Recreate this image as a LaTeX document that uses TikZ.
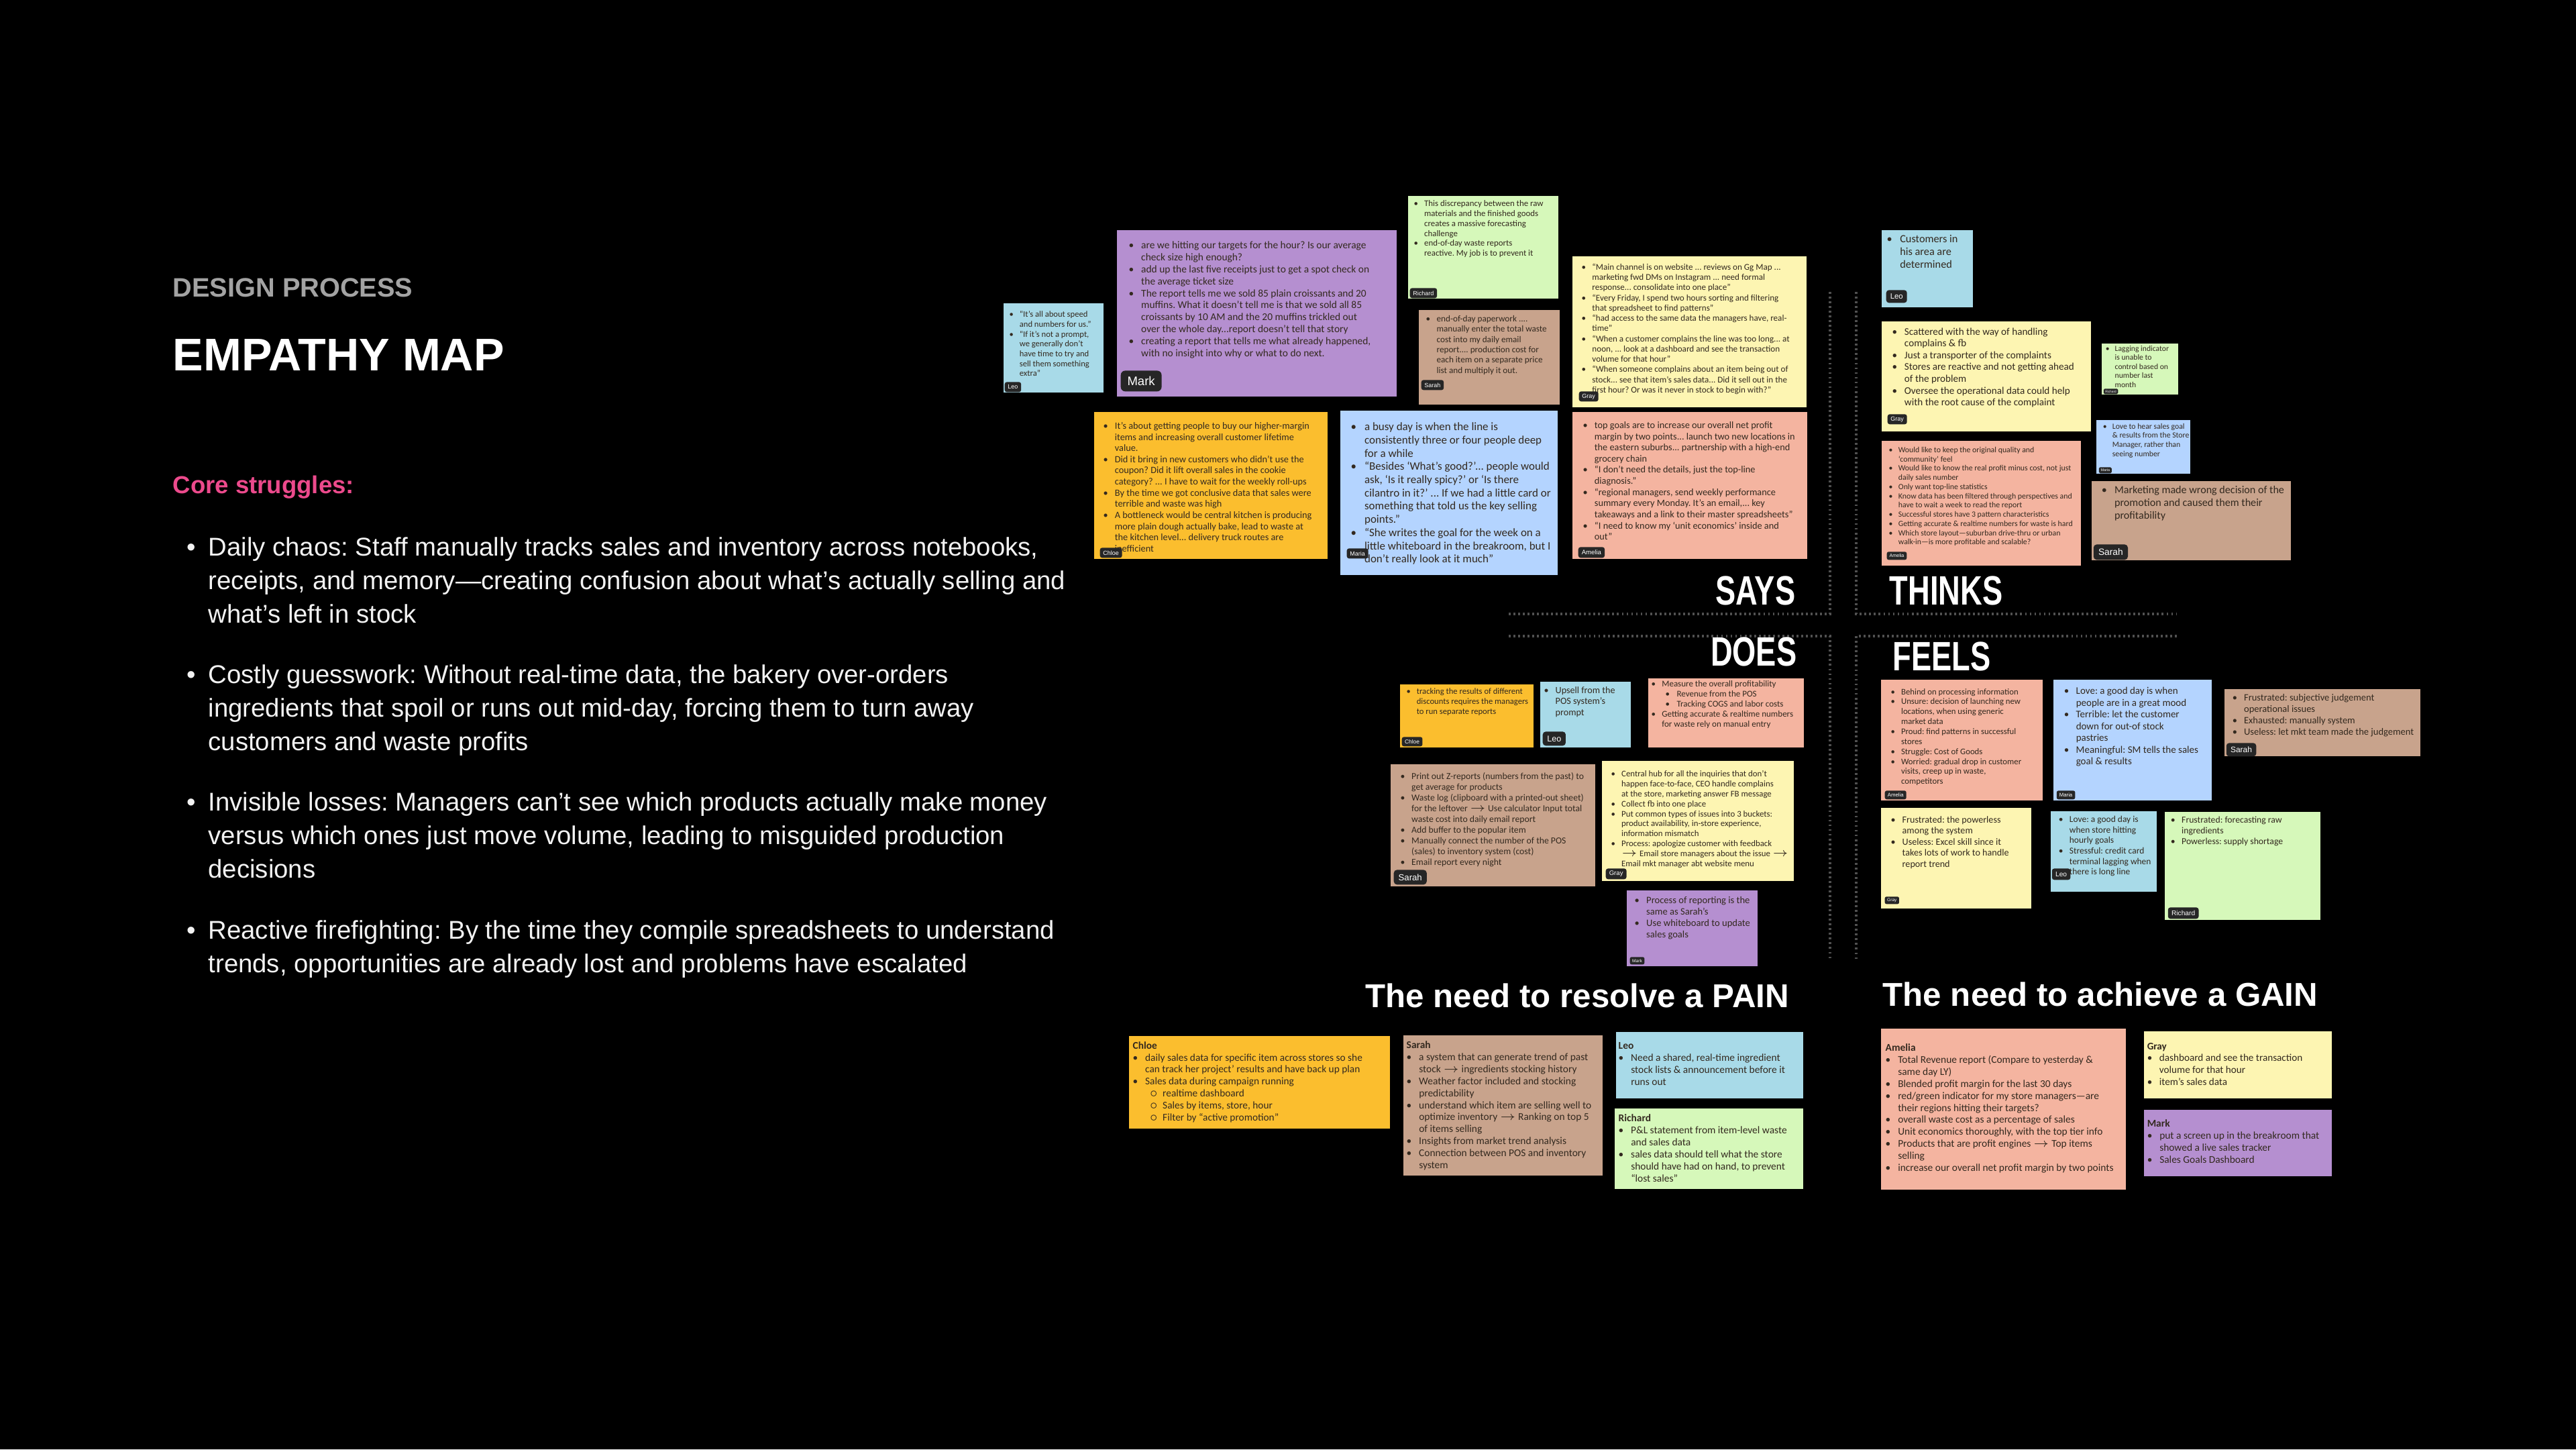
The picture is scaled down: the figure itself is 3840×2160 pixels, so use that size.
\documentclass[tikz,border=0pt]{standalone}
\usepackage{fontspec}
\setmainfont{Liberation Sans}
\newfontfamily\notefont{Carlito}[Ligatures=TeX]
\usepackage{graphicx}
\usetikzlibrary{fit}
\frenchspacing

\definecolor{leoblue}{HTML}{A8DAE8}
\definecolor{markpurple}{HTML}{B58FD0}
\definecolor{richardgreen}{HTML}{D6F8BA}
\definecolor{sarahbrown}{HTML}{C8A38C}
\definecolor{grayyellow}{HTML}{FDF5B2}
\definecolor{chloeorange}{HTML}{FBBE2E}
\definecolor{mariablue}{HTML}{B4D4FF}
\definecolor{ameliasalmon}{HTML}{F4B4A0}
\definecolor{noteink}{HTML}{33291F}
\definecolor{tagfill}{HTML}{262626}
\definecolor{corepink}{HTML}{EC4A8C}
\definecolor{kickergray}{HTML}{A3A3A3}
\definecolor{bodyink}{HTML}{F2F2F2}
\definecolor{dividergray}{HTML}{505050}

\newlength\bodybw
\setlength\bodybw{9.07pt}
\newcommand\bitem[1]{\strut\makebox[1.2em][l]{\textbullet}#1}
\newcommand\cont[1]{\strut\hspace*{1.2em}#1}
\newcommand\sitem[1]{\strut\hspace*{1.6em}\makebox[1.3em][l]{\ensuremath{\circ}}#1}
\newcommand\ditem[1]{\strut\hspace*{1.6em}\makebox[1.3em][l]{\textbullet}#1}
\newcommand\who[1]{\strut\textbf{#1}}
\newcommand\toarrow{\ensuremath{\rightarrow}}
\newcommand\bodyitem[1]{\strut\makebox[\bodybw][l]{\textbullet}#1}
\newcommand\bodycont[1]{\strut\hspace*{\bodybw}#1}
\newcommand\notesize[1]{\pgfmathsetmacro\nfs{#1*0.2438}\pgfmathsetmacro\nbs{#1*0.28346}\fontsize{\nfs pt}{\nbs pt}\selectfont}
\newcommand\tagsize[1]{\pgfmathsetmacro\tfs{#1*0.28346*0.6}\fontsize{\tfs pt}{\tfs pt}\selectfont}

\begin{document}
\begin{tikzpicture}[x=0.01cm, y=-0.01cm,
    sticky/.style={fill=#1, inner sep=0pt},
    stickytext/.style={anchor=north west, inner sep=0pt, align=left, text=noteink, font=\notefont\notesize{#1}\frenchspacing},
    nametag/.style={anchor=south west, fill=tagfill, text=white, font=\tagsize{#1}, minimum height=#1*0.28346pt, inner xsep=#1*0.09pt, inner ysep=0pt, rounded corners=#1*0.06pt},
    bodytext/.style={anchor=north west, inner sep=0pt, align=left, text=bodyink, font=\fontsize{10.9}{14.17}\selectfont\frenchspacing},
    quadlabel/.style={inner sep=0pt, text=white, font=\bfseries\fontsize{17.4}{18}\selectfont},
    needhead/.style={anchor=base west, inner sep=0pt, text=white, font=\bfseries\fontsize{14}{16}\selectfont},
    divider/.style={draw=dividergray, line width=0.9pt, dash pattern=on 0.8pt off 1.2pt}]

    % Background
    \fill[black] (0,0) rectangle (3840,2160);
    \useasboundingbox (0,0) rectangle (3840,2160);

    % Left column
    \node[anchor=base west, inner sep=0pt, text=kickergray, font=\bfseries\fontsize{11.3}{13}\selectfont] (kicker) at (257,442) {DESIGN PROCESS};
    \node[anchor=base west, inner sep=0pt, text=white, font=\bfseries\fontsize{19.4}{22}\selectfont] (title) at (257,552) {EMPATHY MAP};
    \node[anchor=base west, inner sep=0pt, text=corepink, font=\bfseries\fontsize{10.4}{12}\selectfont] (core) at (257,735) {Core struggles:};

    \node[bodytext] (chaos) at (278,793) {\bodyitem{Daily chaos: Staff manually tracks sales and inventory across notebooks,}\\ \bodycont{receipts, and memory---creating confusion about what's actually selling and}\\ \bodycont{what's left in stock}};
    \node[bodytext] (guess) at (278,983) {\bodyitem{Costly guesswork: Without real-time data, the bakery over-orders}\\ \bodycont{ingredients that spoil or runs out mid-day, forcing them to turn away}\\ \bodycont{customers and waste profits}};
    \node[bodytext] (losses) at (278,1173) {\bodyitem{Invisible losses: Managers can't see which products actually make money}\\ \bodycont{versus which ones just move volume, leading to misguided production}\\ \bodycont{decisions}};
    \node[bodytext] (fire) at (278,1364) {\bodyitem{Reactive firefighting: By the time they compile spreadsheets to understand}\\ \bodycont{trends, opportunities are already lost and problems have escalated}};

    % Quadrant dividers
    \draw[divider] (2728,435) -- (2728,915) -- (2249,915);
    \draw[divider] (2767,435) -- (2767,915) -- (3245,915);
    \draw[divider] (2249,948) -- (2728,948) -- (2728,1429);
    \draw[divider] (3245,948) -- (2767,948) -- (2767,1429);

    \node[quadlabel, anchor=base east] (says) at (2677,901) {\scalebox{0.74}[1]{SAYS}};
    \node[quadlabel, anchor=base west] (thinks) at (2816,901) {\scalebox{0.74}[1]{THINKS}};
    \node[quadlabel, anchor=base east] (does) at (2679,992) {\scalebox{0.74}[1]{DOES}};
    \node[quadlabel, anchor=base west] (feels) at (2821,999) {\scalebox{0.74}[1]{FEELS}};

    % SAYS
    \node[sticky=leoblue, fit={(1496,452)(1645,585)}] (saysleo) {};
    \node[stickytext=14.7] (saysleo-txt) at (1504,462) {\bitem{``It's all about speed}\\ \cont{and numbers for us.''}\\ \bitem{``If it's not a prompt,}\\ \cont{we generally don't}\\ \cont{have time to try and}\\ \cont{sell them something}\\ \cont{extra''}};
    \node[nametag=15] (saysleo-tag) at (1497,585) {Leo};

    \node[sticky=markpurple, fit={(1665,343)(2082,591)}] (saysmark) {};
    \node[stickytext=18] (saysmark-txt) at (1682,357) {\bitem{are we hitting our targets for the hour? Is our average}\\ \cont{check size high enough?}\\ \bitem{add up the last five receipts just to get a spot check on}\\ \cont{the average ticket size}\\ \bitem{The report tells me we sold 85 plain croissants and 20}\\ \cont{muffins. What it doesn't tell me is that we sold all 85}\\ \cont{croissants by 10 AM and the 20 muffins trickled out}\\ \cont{over the whole day...report doesn't tell that story}\\ \bitem{creating a report that tells me what already happened,}\\ \cont{with no insight into why or what to do next.}};
    \node[nametag=31] (saysmark-tag) at (1670,584) {Mark};

    \node[sticky=richardgreen, fit={(2099,292)(2323,445)}] (saysrichard) {};
    \node[stickytext=15] (saysrichard-txt) at (2107,296) {\bitem{This discrepancy between the raw}\\ \cont{materials and the finished goods}\\ \cont{creates a massive forecasting}\\ \cont{challenge}\\ \bitem{end-of-day waste reports}\\ \cont{reactive. My job is to prevent it}};
    \node[nametag=15] (saysrichard-tag) at (2101,445) {Richard};

    \node[sticky=sarahbrown, fit={(2115,462)(2325,603)}] (sayssarah) {};
    \node[stickytext=15.4] (sayssarah-txt) at (2125,468) {\bitem{end-of-day paperwork ....}\\ \cont{manually enter the total waste}\\ \cont{cost into my daily email}\\ \cont{report.... production cost for}\\ \cont{each item on a separate price}\\ \cont{list and multiply it out.}};
    \node[nametag=15] (sayssarah-tag) at (2118,582) {Sarah};

    \node[sticky=grayyellow, fit={(2344,382)(2693,607)}] (saysgray) {};
    \node[stickytext=15.3] (saysgray-txt) at (2357,391) {\bitem{``Main channel is on website ... reviews on Gg Map ...}\\ \cont{marketing fwd DMs on Instagram ... need formal}\\ \cont{response... consolidate into one place''}\\ \bitem{``Every Friday, I spend two hours sorting and filtering}\\ \cont{that spreadsheet to find patterns''}\\ \bitem{``had access to the same data the managers have, real-}\\ \cont{time''}\\ \bitem{``When a customer complains the line was too long... at}\\ \cont{noon, ... look at a dashboard and see the transaction}\\ \cont{volume for that hour''}\\ \bitem{``When someone complains about an item being out of}\\ \cont{stock... see that item's sales data... Did it sell out in the}\\ \cont{first hour? Or was it never in stock to begin with?''}};
    \node[nametag=15] (saysgray-tag) at (2353,599) {Gray};

    \node[sticky=chloeorange, fit={(1631,614)(1979,833)}] (sayschloe) {};
    \node[stickytext=16.7] (sayschloe-txt) at (1644,627) {\bitem{It's about getting people to buy our higher-margin}\\ \cont{items and increasing overall customer lifetime}\\ \cont{value.}\\ \bitem{Did it bring in new customers who didn't use the}\\ \cont{coupon? Did it lift overall sales in the cookie}\\ \cont{category? ... I have to wait for the weekly roll-ups}\\ \bitem{By the time we got conclusive data that sales were}\\ \cont{terrible and waste was high}\\ \bitem{A bottleneck would be central kitchen is producing}\\ \cont{more plain dough actually bake, lead to waste at}\\ \cont{the kitchen level... delivery truck routes are}\\ \cont{inefficient}};
    \node[nametag=15] (sayschloe-tag) at (1639,832) {Chloe};

    \node[sticky=mariablue, fit={(1998,612)(2322,857)}] (saysmaria) {};
    \node[stickytext=19.8] (saysmaria-txt) at (2013,627) {\bitem{a busy day is when the line is}\\ \cont{consistently three or four people deep}\\ \cont{for a while}\\ \bitem{``Besides `What's good?'... people would}\\ \cont{ask, `Is it really spicy?' or `Is there}\\ \cont{cilantro in it?' ... If we had a little card or}\\ \cont{something that told us the key selling}\\ \cont{points.''}\\ \bitem{``She writes the goal for the week on a}\\ \cont{little whiteboard in the breakroom, but I}\\ \cont{don't really look at it much''}};
    \node[nametag=15] (saysmaria-tag) at (2007,833) {Maria};

    \node[sticky=ameliasalmon, fit={(2344,614)(2694,833)}] (saysamelia) {};
    \node[stickytext=16.7] (saysamelia-txt) at (2359,626) {\bitem{top goals are to increase our overall net profit}\\ \cont{margin by two points... launch two new locations in}\\ \cont{the eastern suburbs... partnership with a high-end}\\ \cont{grocery chain}\\ \bitem{``I don't need the details, just the top-line}\\ \cont{diagnosis.''}\\ \bitem{``regional managers, send weekly performance}\\ \cont{summary every Monday. It's an email,... key}\\ \cont{takeaways and a link to their master spreadsheets''}\\ \bitem{``I need to know my `unit economics' inside and}\\ \cont{out''}};
    \node[nametag=16] (saysamelia-tag) at (2352,832) {Amelia};

    % THINKS
    \node[sticky=leoblue, fit={(2805,343)(2941,458)}] (thinksleo) {};
    \node[stickytext=19] (thinksleo-txt) at (2812,348) {\bitem{Customers in}\\ \cont{his area are}\\ \cont{determined}};
    \node[nametag=19] (thinksleo-tag) at (2811,452) {Leo};

    \node[sticky=grayyellow, fit={(2805,479)(3117,643)}] (thinksgray) {};
    \node[stickytext=17.7] (thinksgray-txt) at (2820,486) {\bitem{Scattered with the way of handling}\\ \cont{complains \& fb}\\ \bitem{Just a transporter of the complaints}\\ \bitem{Stores are reactive and not getting ahead}\\ \cont{of the problem}\\ \bitem{Oversee the operational data could help}\\ \cont{with the root cause of the complaint}};
    \node[nametag=15] (thinksgray-tag) at (2813,633) {Gray};

    \node[sticky=richardgreen, fit={(3133,512)(3247,588)}] (thinksrichard) {};
    \node[stickytext=13.6] (thinksrichard-txt) at (3138,513) {\bitem{Lagging indicator}\\ \cont{is unable to}\\ \cont{control based on}\\ \cont{number last}\\ \cont{month}};
    \node[nametag=8] (thinksrichard-tag) at (3135,588) {Richard};

    \node[sticky=ameliasalmon, fit={(2805,657)(3102,843)}] (thinksamelia) {};
    \node[stickytext=13.8] (thinksamelia-txt) at (2815,664) {\bitem{Would like to keep the original quality and}\\ \cont{`community' feel}\\ \bitem{Would like to know the real profit minus cost, not just}\\ \cont{daily sales number}\\ \bitem{Only want top-line statistics}\\ \bitem{Know data has been filtered through perspectives and}\\ \cont{have to wait a week to read the report}\\ \bitem{Successful stores have 3 pattern characteristics}\\ \bitem{Getting accurate \& realtime numbers for waste is hard}\\ \bitem{Which store layout---suburban drive-thru or urban}\\ \cont{walk-in---is more profitable and scalable?}};
    \node[nametag=12] (thinksamelia-tag) at (2812,835) {Amelia};

    \node[sticky=mariablue, fit={(3125,626)(3265,706)}] (thinksmaria) {};
    \node[stickytext=13.7] (thinksmaria-txt) at (3134,629) {\bitem{Love to hear sales goal}\\ \cont{\& results from the Store}\\ \cont{Manager, rather than}\\ \cont{seeing number}};
    \node[nametag=9] (thinksmaria-tag) at (3128,706) {Maria};

    \node[sticky=sarahbrown, fit={(3118,717)(3415,835)}] (thinkssarah) {};
    \node[stickytext=18.8] (thinkssarah-txt) at (3132,722) {\bitem{Marketing made wrong decision of the}\\ \cont{promotion and caused them their}\\ \cont{profitability}};
    \node[nametag=23] (thinkssarah-tag) at (3120,835) {Sarah};

    % DOES
    \node[sticky=chloeorange, fit={(2087,1020)(2286,1114)}] (doeschloe) {};
    \node[stickytext=14.7] (doeschloe-txt) at (2096,1024) {\bitem{tracking the results of different}\\ \cont{discounts requires the managers}\\ \cont{to run separate reports}};
    \node[nametag=14] (doeschloe-tag) at (2089,1113) {Chloe};

    \node[sticky=leoblue, fit={(2296,1016)(2431,1114)}] (doesleo) {};
    \node[stickytext=16.5] (doesleo-txt) at (2301,1021) {\bitem{Upsell from the}\\ \cont{POS system's}\\ \cont{prompt}};
    \node[nametag=21] (doesleo-tag) at (2299,1112) {Leo};

    \node[sticky=ameliasalmon, fit={(2457,1011)(2689,1114)}] (doesamelia) {};
    \node[stickytext=15.2] (doesamelia-txt) at (2461,1012) {\bitem{Measure the overall profitability}\\ \ditem{Revenue from the POS}\\ \ditem{Tracking COGS and labor costs}\\ \bitem{Getting accurate \& realtime numbers}\\ \cont{for waste rely on manual entry}};

    \node[sticky=sarahbrown, fit={(2073,1139)(2378,1321)}] (doessarah) {};
    \node[stickytext=16] (doessarah-txt) at (2087,1150) {\bitem{Print out Z-reports (numbers from the past) to}\\ \cont{get average for products}\\ \bitem{Waste log (clipboard with a printed-out sheet)}\\ \cont{for the leftover \toarrow{} Use calculator Input total}\\ \cont{waste cost into daily email report}\\ \bitem{Add buffer to the popular item}\\ \bitem{Manually connect the number of the POS}\\ \cont{(sales) to inventory system (cost)}\\ \bitem{Email report every night}};
    \node[nametag=22] (doessarah-tag) at (2077,1319) {Sarah};

    \node[sticky=grayyellow, fit={(2388,1134)(2674,1313)}] (doesgray) {};
    \node[stickytext=15] (doesgray-txt) at (2401,1146) {\bitem{Central hub for all the inquiries that don't}\\ \cont{happen face-to-face, CEO handle complains}\\ \cont{at the store, marketing answer FB message}\\ \bitem{Collect fb into one place}\\ \bitem{Put common types of issues into 3 buckets:}\\ \cont{product availability, in-store experience,}\\ \cont{information mismatch}\\ \bitem{Process: apologize customer with feedback}\\ \cont{\toarrow{} Email store managers about the issue \toarrow}\\ \cont{Email mkt manager abt website menu}};
    \node[nametag=16] (doesgray-tag) at (2393,1311) {Gray};

    \node[sticky=markpurple, fit={(2425,1327)(2620,1440)}] (doesmark) {};
    \node[stickytext=17] (doesmark-txt) at (2436,1334) {\bitem{Process of reporting is the}\\ \cont{same as Sarah's}\\ \bitem{Use whiteboard to update}\\ \cont{sales goals}};
    \node[nametag=11] (doesmark-tag) at (2429,1438) {Mark};

    % FEELS
    \node[sticky=ameliasalmon, fit={(2804,1013)(3045,1193)}] (feelsamelia) {};
    \node[stickytext=14.9] (feelsamelia-txt) at (2818,1024) {\bitem{Behind on processing information}\\ \bitem{Unsure: decision of launching new}\\ \cont{locations, when using generic}\\ \cont{market data}\\ \bitem{Proud: find patterns in successful}\\ \cont{stores}\\ \bitem{Struggle: Cost of Goods}\\ \bitem{Worried: gradual drop in customer}\\ \cont{visits, creep up in waste,}\\ \cont{competitors}};
    \node[nametag=13] (feelsamelia-tag) at (2809,1192) {Amelia};

    \node[sticky=mariablue, fit={(3061,1013)(3297,1193)}] (feelsmaria) {};
    \node[stickytext=17.5] (feelsmaria-txt) at (3076,1022) {\bitem{Love: a good day is when}\\ \cont{people are in a great mood}\\ \bitem{Terrible: let the customer}\\ \cont{down for out-of stock}\\ \cont{pastries}\\ \bitem{Meaningful: SM tells the sales}\\ \cont{goal \& results}};
    \node[nametag=13] (feelsmaria-tag) at (3065,1192) {Maria};

    \node[sticky=sarahbrown, fit={(3316,1027)(3608,1127)}] (feelssarah) {};
    \node[stickytext=16.9] (feelssarah-txt) at (3327,1032) {\bitem{Frustrated: subjective judgement}\\ \cont{operational issues}\\ \bitem{Exhausted: manually system}\\ \bitem{Useless: let mkt team made the judgement}};
    \node[nametag=20] (feelssarah-tag) at (3318,1128) {Sarah};

    \node[sticky=grayyellow, fit={(2804,1204)(3028,1354)}] (feelsgray) {};
    \node[stickytext=16.5] (feelsgray-txt) at (2818,1214) {\bitem{Frustrated: the powerless}\\ \cont{among the system}\\ \bitem{Useless: Excel skill since it}\\ \cont{takes lots of work to handle}\\ \cont{report trend}};
    \node[nametag=11] (feelsgray-tag) at (2809,1348) {Gray};

    \node[sticky=leoblue, fit={(3057,1209)(3215,1329)}] (feelsleo) {};
    \node[stickytext=15.7] (feelsleo-txt) at (3068,1214) {\bitem{Love: a good day is}\\ \cont{when store hitting}\\ \cont{hourly goals}\\ \bitem{Stressful: credit card}\\ \cont{terminal lagging when}\\ \cont{there is long line}};
    \node[nametag=17] (feelsleo-tag) at (3058,1312) {Leo};

    \node[sticky=richardgreen, fit={(3227,1210)(3459,1371)}] (feelsrichard) {};
    \node[stickytext=16] (feelsrichard-txt) at (3235,1215) {\bitem{Frustrated: forecasting raw}\\ \cont{ingredients}\\ \bitem{Powerless: supply shortage}};
    \node[nametag=17] (feelsrichard-tag) at (3231,1370) {Richard};

    % PAIN and GAIN
    \node[needhead] (pain) at (2035,1501) {The need to resolve a PAIN};
    \node[needhead] (gain) at (2806,1499) {The need to achieve a GAIN};

    \node[sticky=chloeorange, fit={(1683,1544)(2072,1682)}] (painchloe) {};
    \node[stickytext=17.9] (painchloe-txt) at (1688,1550) {\who{Chloe}\\ \bitem{daily sales data for specific item across stores so she}\\ \cont{can track her project' results and have back up plan}\\ \bitem{Sales data during campaign running}\\ \sitem{realtime dashboard}\\ \sitem{Sales by items, store, hour}\\ \sitem{Filter by ``active promotion''}};

    \node[sticky=sarahbrown, fit={(2092,1543)(2389,1752)}] (painsarah) {};
    \node[stickytext=18] (painsarah-txt) at (2096,1549) {\who{Sarah}\\ \bitem{a system that can generate trend of past}\\ \cont{stock \toarrow{} ingredients stocking history}\\ \bitem{Weather factor included and stocking}\\ \cont{predictability}\\ \bitem{understand which item are selling well to}\\ \cont{optimize inventory \toarrow{} Ranking on top 5}\\ \cont{of items selling}\\ \bitem{Insights from market trend analysis}\\ \bitem{Connection between POS and inventory}\\ \cont{system}};

    \node[sticky=leoblue, fit={(2409,1538)(2688,1637)}] (painleo) {};
    \node[stickytext=18] (painleo-txt) at (2412,1550) {\who{Leo}\\ \bitem{Need a shared, real-time ingredient}\\ \cont{stock lists \& announcement before it}\\ \cont{runs out}};

    \node[sticky=richardgreen, fit={(2407,1652)(2688,1772)}] (painrichard) {};
    \node[stickytext=18] (painrichard-txt) at (2412,1658) {\who{Richard}\\ \bitem{P\&L statement from item-level waste}\\ \cont{and sales data}\\ \bitem{sales data should tell what the store}\\ \cont{should have had on hand, to prevent}\\ \cont{``lost sales''}};

    \node[sticky=ameliasalmon, fit={(2804,1533)(3169,1773)}] (gainamelia) {};
    \node[stickytext=18] (gainamelia-txt) at (2810,1553) {\who{Amelia}\\ \bitem{Total Revenue report (Compare to yesterday \&}\\ \cont{same day LY)}\\ \bitem{Blended profit margin for the last 30 days}\\ \bitem{red/green indicator for my store managers---are}\\ \cont{their regions hitting their targets?}\\ \bitem{overall waste cost as a percentage of sales}\\ \bitem{Unit economics thoroughly, with the top tier info}\\ \bitem{Products that are profit engines \toarrow{} Top items}\\ \cont{selling}\\ \bitem{increase our overall net profit margin by two points}};

    \node[sticky=grayyellow, fit={(3196,1537)(3476,1637)}] (gaingray) {};
    \node[stickytext=17.7] (gaingray-txt) at (3200,1551) {\who{Gray}\\ \bitem{dashboard and see the transaction}\\ \cont{volume for that hour}\\ \bitem{item's sales data}};

    \node[sticky=markpurple, fit={(3196,1654)(3476,1753)}] (gainmark) {};
    \node[stickytext=18] (gainmark-txt) at (3200,1666) {\who{Mark}\\ \bitem{put a screen up in the breakroom that}\\ \cont{showed a live sales tracker}\\ \bitem{Sales Goals Dashboard}};
\end{tikzpicture}
\end{document}
